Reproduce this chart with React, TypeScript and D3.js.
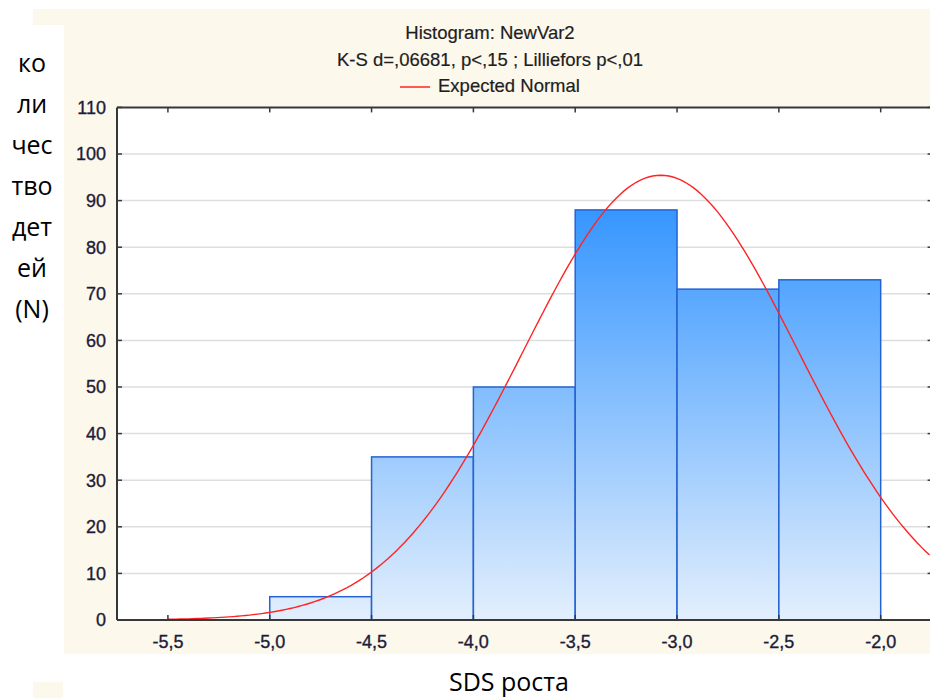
import React from "react";
import * as d3 from "d3";

// Histogram bins of SDS роста (lower edge, upper edge, count)
const binStarts = [-5.0, -4.5, -4.0, -3.5, -3.0, -2.5];
const binEnds = [-4.5, -4.0, -3.5, -3.0, -2.5, -2.0];
const binCounts = [5, 35, 50, 88, 71, 73];

// Sample statistics used for the expected normal curve
const sampleMean = -3.08;
const sampleSd = 0.673;
const binWidth = 0.5;

const xTicks = [-5.5, -5.0, -4.5, -4.0, -3.5, -3.0, -2.5, -2.0];
const yTicks = [0, 10, 20, 30, 40, 50, 60, 70, 80, 90, 100, 110];

const titleLines = [
  "Histogram: NewVar2",
  "K-S d=,06681, p<,15 ; Lilliefors p<,01",
];
const legendLabel = "Expected Normal";
const yLabelLines = ["ко", "ли", "чес", "тво", "дет", "ей", "(N)"];
const xLabel = "SDS роста";

const W = 930;
const H = 698;
const plot = { left: 117, right: 931.6, top: 107.4, bottom: 620 };

const fmt = (v: number) => v.toFixed(1).replace(".", ",");

export default function App() {
  const x = d3.scaleLinear().domain([-5.75, -1.75]).range([plot.left, plot.right]);
  const y = d3.scaleLinear().domain([0, 110]).range([plot.bottom, plot.top]);

  const total = d3.sum(binCounts);
  const pdf = (v: number) =>
    Math.exp(-0.5 * ((v - sampleMean) / sampleSd) ** 2) / (sampleSd * Math.sqrt(2 * Math.PI));
  const curveXs = d3.range(-5.5, -1.75 + 1e-9, 0.02);
  const curve = d3
    .line<number>()
    .x((v) => x(v))
    .y((v) => y(total * binWidth * pdf(v)))
    .curve(d3.curveLinear)(curveXs);

  const tickFont = "'Liberation Sans', Arial, sans-serif";
  const tickColor = "#1c1c3a";
  const cream = "#fdf8ec";
  const axisColor = "#383838";

  return (
    <svg
      width={W}
      height={H}
      style={{ position: "absolute", left: 0, top: 0, display: "block" }}
    >
      <defs>
        <linearGradient
          id="barFill"
          gradientUnits="userSpaceOnUse"
          x1={0}
          x2={0}
          y1={y(0)}
          y2={y(88)}
        >
          <stop offset="0%" stopColor="#e3effc" />
          <stop offset="100%" stopColor="#3696ff" />
        </linearGradient>
        <clipPath id="plotClip">
          <rect x={plot.left} y={plot.top - 2} width={plot.right - plot.left} height={plot.bottom - plot.top + 2} />
        </clipPath>
      </defs>

      {/* page background */}
      <rect x={0} y={0} width={W} height={H} fill="#ffffff" />
      <rect x={33} y={9} width={W - 33} height={645} fill={cream} />
      <rect x={33} y={682} width={30} height={16} fill={cream} />
      {/* label boxes */}
      <rect x={0} y={25} width={64} height={657} fill="#ffffff" />
      <rect x={64} y={654} width={W - 64} height={44} fill="#ffffff" />

      {/* plot area */}
      <rect
        x={plot.left}
        y={plot.top}
        width={plot.right - plot.left}
        height={plot.bottom - plot.top}
        fill="#ffffff"
      />

      {/* gridlines */}
      {yTicks
        .filter((t) => t > 0 && t < 110)
        .map((t) => (
          <line
            key={`g${t}`}
            x1={plot.left}
            x2={plot.right}
            y1={y(t)}
            y2={y(t)}
            stroke="#dedede"
            strokeWidth={1.5}
          />
        ))}

      {/* bars */}
      {binCounts.map((c, i) => (
        <rect
          key={`b${i}`}
          x={x(binStarts[i])}
          y={y(c)}
          width={x(binEnds[i]) - x(binStarts[i])}
          height={y(0) - y(c)}
          fill="url(#barFill)"
          stroke="#2563d2"
          strokeWidth={1.5}
        />
      ))}

      {/* expected normal curve */}
      <path
        d={curve ?? ""}
        fill="none"
        stroke="#ff2424"
        strokeWidth={1.4}
        clipPath="url(#plotClip)"
      />

      {/* axes frame */}
      <line x1={plot.left} x2={plot.right} y1={plot.top} y2={plot.top} stroke={axisColor} strokeWidth={2} />
      <line x1={plot.left} x2={plot.right} y1={plot.bottom} y2={plot.bottom} stroke={axisColor} strokeWidth={2} />
      <line x1={plot.left} x2={plot.left} y1={plot.top} y2={plot.bottom} stroke={axisColor} strokeWidth={2} />
      <line x1={plot.right} x2={plot.right} y1={plot.top} y2={plot.bottom} stroke={axisColor} strokeWidth={2} />

      {/* x ticks */}
      {xTicks.map((t) => (
        <g key={`xt${t}`}>
          <line x1={x(t)} x2={x(t)} y1={plot.bottom} y2={plot.bottom - 5} stroke={axisColor} strokeWidth={1.5} />
          <line x1={x(t)} x2={x(t)} y1={plot.top} y2={plot.top + 5} stroke={axisColor} strokeWidth={1.5} />
          <text
            x={x(t)}
            y={648}
            textAnchor="middle"
            fontFamily={tickFont}
            fontSize={18}
            fill={tickColor}
            stroke={tickColor}
            strokeWidth={0.35}
          >
            {fmt(t)}
          </text>
        </g>
      ))}

      {/* y ticks */}
      {yTicks.map((t) => (
        <g key={`yt${t}`}>
          <line x1={plot.left} x2={plot.left + 5} y1={y(t)} y2={y(t)} stroke={axisColor} strokeWidth={1.5} />
          <line x1={plot.right - 4} x2={plot.right} y1={y(t)} y2={y(t)} stroke={axisColor} strokeWidth={1.5} />
          <text
            x={106}
            y={y(t)}
            dy="0.35em"
            textAnchor="end"
            fontFamily={tickFont}
            fontSize={18}
            fill={tickColor}
            stroke={tickColor}
            strokeWidth={0.35}
          >
            {t}
          </text>
        </g>
      ))}

      {/* title */}
      {titleLines.map((s, i) => (
        <text
          key={`t${i}`}
          x={490}
          y={39 + i * 26.5}
          textAnchor="middle"
          fontFamily={tickFont}
          fontSize={18.5}
          fill="#1e1e1e"
          stroke="#1e1e1e"
          strokeWidth={0.2}
        >
          {s}
        </text>
      ))}

      {/* legend */}
      <line x1={400} x2={430} y1={87} y2={87} stroke="#ff2424" strokeWidth={1.5} />
      <text
        x={438}
        y={92}
        fontFamily={tickFont}
        fontSize={18.5}
        fill="#1e1e1e"
        stroke="#1e1e1e"
        strokeWidth={0.2}
      >
        {legendLabel}
      </text>

      {/* y axis label, stacked */}
      {yLabelLines.map((s, i) => (
        <text
          key={`yl${i}`}
          x={32}
          y={72 + i * 41}
          textAnchor="middle"
          fontFamily="'Open Sans', 'Noto Sans', sans-serif"
          fontSize={25}
          fill="#000000"
        >
          {s}
        </text>
      ))}

      {/* x axis label */}
      <text
        x={509}
        y={691}
        textAnchor="middle"
        fontFamily="'Open Sans', 'Noto Sans', sans-serif"
        fontSize={25}
        fill="#000000"
      >
        {xLabel}
      </text>
    </svg>
  );
}
